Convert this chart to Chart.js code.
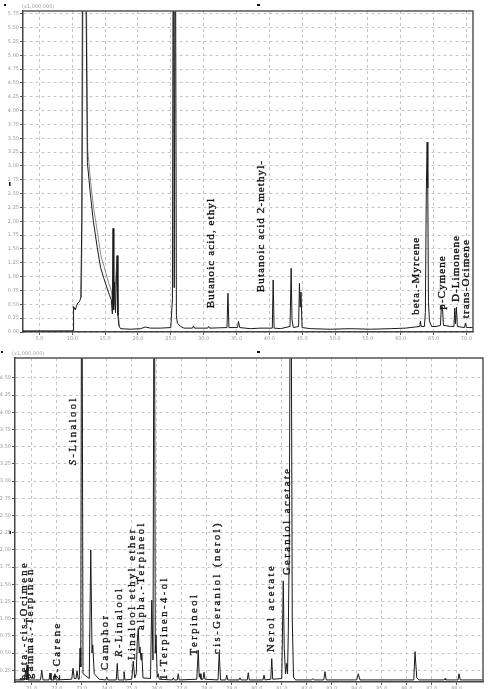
<!DOCTYPE html>
<html>
<head>
<meta charset="utf-8">
<script src="https://cdn.jsdelivr.net/npm/chart.js@4.4.1/dist/chart.umd.min.js"></script>
<style>
  html, body { margin: 0; padding: 0; background: #fff; }
  #top { position: absolute; left: 0; top: 0; width: 490px; height: 346px; }
  #bottom { position: absolute; left: 0; top: 346px; width: 490px; height: 343px; }
</style>
</head>
<body>
<div id="top"><canvas id="topChart"></canvas></div>
<div id="bottom"><canvas id="bottomChart"></canvas></div>
<script>
// Chromatogramme, panneau du haut (min, x1 000 000)
const topTimes = [2.5, 10.15, 10.2, 10.45, 10.8, 11.1, 11.3, 11.45, 11.6, 11.85, 12.1, 12.3, 12.75, 13.2, 13.8, 14.3, 14.75, 15.5, 15.95, 16.1, 16.22, 16.3, 16.45, 16.58, 16.83, 16.95, 17.1, 17.35, 18.9, 20.4, 21.1, 21.9, 23.4, 25.0, 25.25, 25.38, 25.52, 25.68, 25.85, 26.0, 26.5, 27.0, 28.3, 28.45, 28.6, 30.6, 30.75, 30.9, 33.55, 33.7, 33.85, 35.15, 35.3, 35.5, 37.1, 38.6, 40.45, 40.58, 40.72, 41.7, 43.15, 43.32, 43.45, 43.65, 44.45, 44.58, 44.7, 44.82, 44.98, 46.3, 49.3, 52.3, 55.4, 58.4, 60.7, 62.2, 62.9, 63.0, 63.1, 63.6, 63.75, 63.9, 64.02, 64.12, 64.22, 64.37, 64.7, 65.4, 66.05, 66.19, 66.35, 66.5, 67.6, 68.1, 68.22, 68.33, 68.48, 68.62, 69.7, 69.85, 70.0, 71.0];
const topSignal = [0.02, 0.02, 0.46, 0.40, 0.52, 0.55, 0.62, 2.0, 9.0, 9.0, 6.0, 3.06, 2.50, 2.01, 1.53, 1.17, 0.99, 0.72, 0.58, 0.33, 1.87, 0.40, 0.90, 0.35, 1.38, 0.30, 0.11, 0.06, 0.05, 0.06, 0.09, 0.07, 0.07, 0.08, 0.6, 9.0, 0.8, 9.0, 0.3, 0.16, 0.10, 0.07, 0.07, 0.11, 0.07, 0.07, 0.10, 0.07, 0.08, 0.70, 0.08, 0.08, 0.19, 0.08, 0.06, 0.07, 0.07, 0.94, 0.07, 0.06, 0.10, 1.15, 0.22, 0.08, 0.10, 0.88, 0.45, 0.72, 0.08, 0.06, 0.05, 0.06, 0.05, 0.06, 0.07, 0.09, 0.10, 0.20, 0.10, 0.10, 0.35, 2.6, 3.43, 2.6, 0.55, 0.20, 0.10, 0.10, 0.12, 0.48, 0.45, 0.12, 0.10, 0.10, 0.43, 0.15, 0.45, 0.10, 0.08, 0.16, 0.08, 0.08];
// second passage (gris) visible dans la traînée du solvant
const topGrayTimes = [11.4, 11.55, 11.7, 12.1, 12.35, 12.8, 13.3, 13.9, 14.35, 14.8, 15.5, 15.95, 16.1, 16.22, 16.35, 16.83, 17.0, 17.2];
const topGraySignal = [0.62, 3.0, 9.0, 7.0, 3.3, 2.7, 2.2, 1.75, 1.38, 1.2, 0.9, 0.75, 0.6, 1.87, 0.5, 1.38, 0.3, 0.1];

const topNames = ['Butanoic acid, ethyl', 'Butanoic acid 2-methyl-', 'beta.-Myrcene', 'p-Cymene', 'D-Limonene', 'trans-Ocimene'];
const topNameTimes = [31.18, 38.8, 62.4, 66.35, 68.4, 69.93];
const topNameLevels = [0.43, 0.72, 0.31, 0.40, 0.54, 0.25];

// Panneau du bas
const bottomTimes = [70.33, 70.7, 70.76, 70.79, 70.81, 70.85, 71.35, 71.4, 71.45, 71.69, 71.73, 71.77, 71.89, 71.93, 71.97, 72.6, 72.65, 72.7, 72.77, 72.81, 72.86, 72.9, 72.93, 72.96, 73.0, 73.05, 73.3, 73.36, 73.41, 73.44, 73.5, 73.7, 73.96, 74.0, 74.04, 74.38, 74.42, 74.46, 74.65, 74.69, 74.73, 75.0, 75.06, 75.12, 75.18, 75.22, 75.26, 75.3, 75.33, 75.37, 75.4, 75.45, 75.75, 75.8, 75.85, 75.9, 75.94, 75.97, 76.02, 76.06, 76.1, 76.62, 76.66, 76.7, 76.82, 76.86, 76.9, 77.6, 77.66, 77.7, 77.73, 77.77, 77.85, 77.89, 77.93, 78.45, 78.5, 78.55, 78.76, 78.8, 78.84, 79.29, 79.33, 79.37, 79.62, 79.66, 79.7, 80.25, 80.29, 80.33, 80.56, 80.6, 80.64, 81.0, 81.06, 81.1, 81.15, 81.2, 81.23, 81.26, 81.3, 81.36, 81.42, 81.47, 81.55, 82.2, 82.25, 82.3, 82.68, 82.73, 82.78, 84.0, 84.06, 84.13, 86.28, 86.33, 86.4, 86.48, 87.5, 87.53, 87.56, 88.05, 88.09, 88.14, 89.05];
const bottomSignal = [0.11, 0.11, 0.25, 0.11, 0.33, 0.11, 0.11, 0.25, 0.11, 0.11, 0.21, 0.11, 0.11, 0.20, 0.11, 0.12, 0.28, 0.13, 0.13, 0.24, 0.12, 0.12, 0.57, 0.30, 8.0, 0.20, 0.13, 2.0, 0.50, 0.62, 0.20, 0.12, 0.11, 0.15, 0.11, 0.11, 0.35, 0.11, 0.11, 0.23, 0.11, 0.12, 0.38, 0.14, 0.20, 0.67, 0.86, 0.50, 0.59, 0.40, 0.50, 0.14, 0.13, 1.27, 0.40, 8.0, 0.50, 0.76, 0.15, 0.20, 0.12, 0.11, 0.14, 0.11, 0.11, 0.20, 0.11, 0.12, 0.545, 0.15, 0.20, 0.12, 0.12, 0.22, 0.12, 0.11, 0.50, 0.11, 0.11, 0.18, 0.11, 0.11, 0.14, 0.11, 0.11, 0.215, 0.11, 0.11, 0.18, 0.11, 0.12, 0.42, 0.12, 0.13, 1.55, 0.57, 0.20, 0.35, 0.20, 0.76, 2.05, 8.0, 1.0, 0.15, 0.11, 0.11, 0.13, 0.11, 0.11, 0.23, 0.11, 0.11, 0.20, 0.11, 0.11, 0.52, 0.14, 0.11, 0.11, 0.13, 0.11, 0.11, 0.20, 0.11, 0.11];

const bottomNames = ['beta.-cis-Ocimene', 'gamma.-Terpinen', '2-Carene', 'S-Linalool', 'Camphor', 'R-Linalool', 'Linalool ethyl ether', 'alpha.-Terpineol', '1-Terpinen-4-ol', 'Terpineol', 'cis-Geraniol (nerol)', 'Nerol acetate', 'Geraniol acetate'];
const bottomNameTimes = [70.71, 70.95, 72.01, 72.65, 73.95, 74.49, 75.01, 75.37, 76.29, 77.49, 78.43, 80.59, 81.21];
const bottomNameLevels = [0.11, 0.124, 0.11, 3.23, 0.254, 0.443, 0.40, 0.836, 0.11, 0.47, 0.487, 0.516, 1.635];

const toPoints = (xs, ys) => xs.map((x, i) => ({ x: x, y: ys[i] }));
const isStep = (v, step) => Math.abs(v / step - Math.round(v / step)) < 1e-6;

// noms des pics, écrits à la verticale
const peakLabels = {
    id: 'peakLabels',
    afterDatasetsDraw(chart, args, opts) {
        const { ctx, scales: { x, y } } = chart;
        const family = '"Liberation Serif", "DejaVu Serif", serif';
        const put = (txt, dx) => { ctx.fillText(txt, dx, 0); ctx.strokeText(txt, dx, 0); };
        ctx.save();
        ctx.fillStyle = '#111';
        ctx.strokeStyle = '#111';
        ctx.lineWidth = 0.35;
        ctx.textBaseline = 'middle';
        ctx.textAlign = 'left';
        ctx.letterSpacing = opts.spacing + 'px';
        opts.names.forEach((name, i) => {
            ctx.save();
            ctx.translate(x.getPixelForValue(opts.times[i]), y.getPixelForValue(opts.levels[i]));
            ctx.rotate(-Math.PI / 2);
            const m = name.match(/^([SR])(-.*)$/);
            if (m) {
                ctx.font = 'italic ' + opts.size + 'px ' + family;
                put(m[1], 0);
                const w = ctx.measureText(m[1]).width;
                ctx.font = opts.size + 'px ' + family;
                put(m[2], w);
            } else {
                ctx.font = opts.size + 'px ' + family;
                put(name, 0);
            }
            ctx.restore();
        });
        ctx.restore();
    }
};

// cadre, facteur d'échelle et petits repères
const frame = {
    id: 'frame',
    afterDraw(chart, args, opts) {
        const { ctx, chartArea: a } = chart;
        ctx.save();
        ctx.strokeStyle = '#555';
        ctx.lineWidth = 1.5;
        ctx.beginPath();
        ctx.moveTo(a.left, a.top);
        ctx.lineTo(a.right, a.top);
        ctx.lineTo(a.right, a.bottom);
        ctx.stroke();
        ctx.fillStyle = '#a0a0a0';
        ctx.font = '5px "DejaVu Sans"';
        ctx.textBaseline = 'bottom';
        ctx.fillText('(x1,000,000)', a.left + opts.unitShift, a.top - 2);
        ctx.fillStyle = '#111';
        opts.marks.forEach(r => ctx.fillRect(r[0], r[1], r[2], r[3]));
        ctx.restore();
    }
};

function axis(min, max, step, major, digits, fit) {
    return {
        type: 'linear',
        min: min,
        max: max,
        afterFit: fit,
        ticks: {
            stepSize: step,
            autoSkip: false,
            maxRotation: 0,
            padding: 1,
            color: '#9a9a9a',
            font: { size: 5, family: 'DejaVu Sans' },
            callback: v => isStep(v, major) ? v.toFixed(digits) : null
        },
        grid: {
            color: c => (c.tick && isStep(c.tick.value, major)) ? '#c6c6c6' : 'rgba(0,0,0,0)',
            tickColor: '#555',
            tickLength: 3,
            lineWidth: 1
        },
        border: { display: true, color: '#444', width: 1.5, dash: [3, 3] }
    };
}

function renderChart(id, sets, x, y, padding, labels, marks, unitShift) {
    new Chart(document.getElementById(id), {
        type: 'line',
        data: { datasets: sets },
        options: {
            responsive: true,
            maintainAspectRatio: false,
            animation: false,
            events: [],
            layout: { padding: padding },
            elements: { point: { radius: 0 }, line: { tension: 0, borderWidth: 1 } },
            plugins: {
                legend: { display: false },
                tooltip: { enabled: false },
                peakLabels: labels,
                frame: { marks: marks, unitShift: unitShift }
            },
            scales: { x: x, y: y }
        },
        plugins: [peakLabels, frame]
    });
}

renderChart('topChart', [
        { data: toPoints(topGrayTimes, topGraySignal), borderColor: '#8c8c8c', order: 2 },
        { data: toPoints(topTimes, topSignal), borderColor: '#1a1a1a', order: 1 }
    ],
    axis(2.5, 71, 1, 5, 1, s => { s.height = 14; }),
    axis(0, 5.8, 0.05, 0.25, 2, s => { s.width = 23; }),
    { top: 11, right: 17, left: 0, bottom: 0 },
    { names: topNames, times: topNameTimes, levels: topNameLevels, size: 11, spacing: 1.1 },
    [[4, 4, 2, 2], [257, 4, 3, 2], [9, 182, 1.5, 4]],
    -1
);

renderChart('bottomChart', [
        { data: toPoints(bottomTimes, bottomSignal), borderColor: '#1a1a1a' }
    ],
    axis(70.33, 89.05, 0.2, 1, 1, s => { s.height = 7; }),
    axis(0.08, 4.79, 0.05, 0.25, 2, s => { s.width = 15; }),
    { top: 12, right: 7, left: 0, bottom: 0 },
    { names: bottomNames, times: bottomNameTimes, levels: bottomNameLevels, size: 10.5, spacing: 2.5 },
    [[1, 5, 2, 2], [257, 5, 3, 2], [9.5, 185, 1.5, 3]],
    -3
);
</script>
</body>
</html>
